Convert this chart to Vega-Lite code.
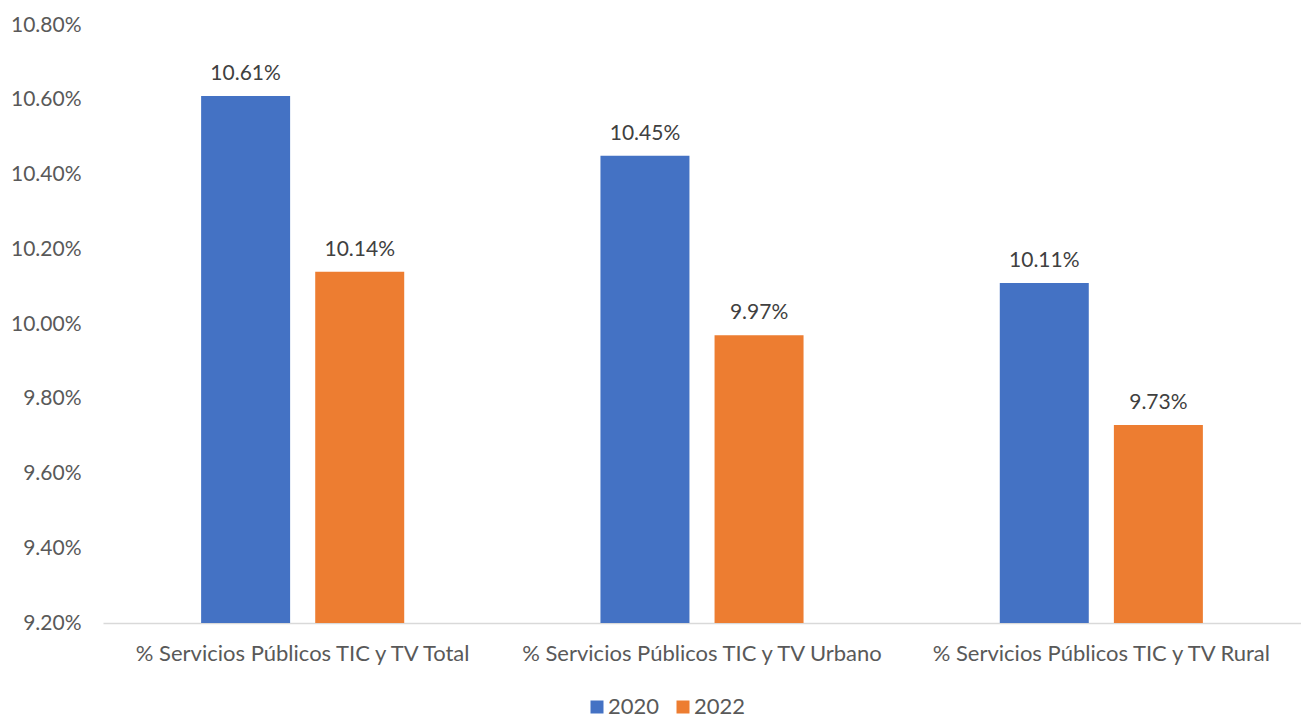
{
  "$schema": "https://vega.github.io/schema/vega-lite/v6.json",
  "width": 1198,
  "height": 598,
  "autosize": {"type": "none"},
  "padding": {"left": 103, "top": 25, "right": 0, "bottom": 97},
  "background": "white",
  "config": {"view": {"stroke": null}, "font": "Lato"},
  "data": {
    "values": [
      {"cat": "% Servicios Públicos TIC y TV Total", "year": "2020", "v": 0.1061},
      {"cat": "% Servicios Públicos TIC y TV Total", "year": "2022", "v": 0.1014},
      {"cat": "% Servicios Públicos TIC y TV Urbano", "year": "2020", "v": 0.1045},
      {"cat": "% Servicios Públicos TIC y TV Urbano", "year": "2022", "v": 0.0997},
      {"cat": "% Servicios Públicos TIC y TV Rural", "year": "2020", "v": 0.1011},
      {"cat": "% Servicios Públicos TIC y TV Rural", "year": "2022", "v": 0.0973}
    ]
  },
  "encoding": {
    "x": {
      "field": "cat", "type": "nominal", "sort": null,
      "scale": {"paddingInner": 0, "paddingOuter": 0},
      "axis": {"title": null, "labelAngle": 0, "ticks": false, "domainColor": "#d9d9d9", "domainWidth": 1.5,
               "labelFontSize": 22, "labelColor": "#595959", "labelPadding": 20, "labelFont": "Lato", "labelLimit": 400}
    },
    "xOffset": {"field": "year", "type": "nominal", "scale": {"paddingInner": 0.22, "paddingOuter": 0.86}},
    "y": {
      "field": "v", "type": "quantitative",
      "scale": {"domain": [0.092, 0.108], "zero": false, "nice": false},
      "axis": {"title": null, "format": ".2%", "values": [0.092, 0.094, 0.096, 0.098, 0.1, 0.102, 0.104, 0.106, 0.108],
               "grid": false, "ticks": false, "domain": false, "labelPadding": 22,
               "labelFontSize": 21, "labelColor": "#595959", "labelFont": "Lato"}
    }
  },
  "layer": [
    {
      "mark": {"type": "bar"},
      "encoding": {
        "y2": {"datum": 0.092},
        "color": {
          "field": "year", "type": "nominal",
          "scale": {"domain": ["2020", "2022"], "range": ["#4472C4", "#ED7D31"]},
          "legend": {"title": null, "orient": "none", "legendX": 483, "legendY": 671, "direction": "horizontal",
                     "symbolType": "square", "symbolSize": 169, "symbolStrokeWidth": 0, "labelFontSize": 22,
                     "labelColor": "#595959", "labelFont": "Lato", "columnPadding": 12, "labelOffset": 0}
        }
      }
    },
    {
      "mark": {"type": "text", "baseline": "bottom", "dy": -12, "fontSize": 21, "color": "#404040", "font": "Lato"},
      "encoding": {"text": {"field": "v", "type": "quantitative", "format": ".2%"}}
    }
  ]
}
